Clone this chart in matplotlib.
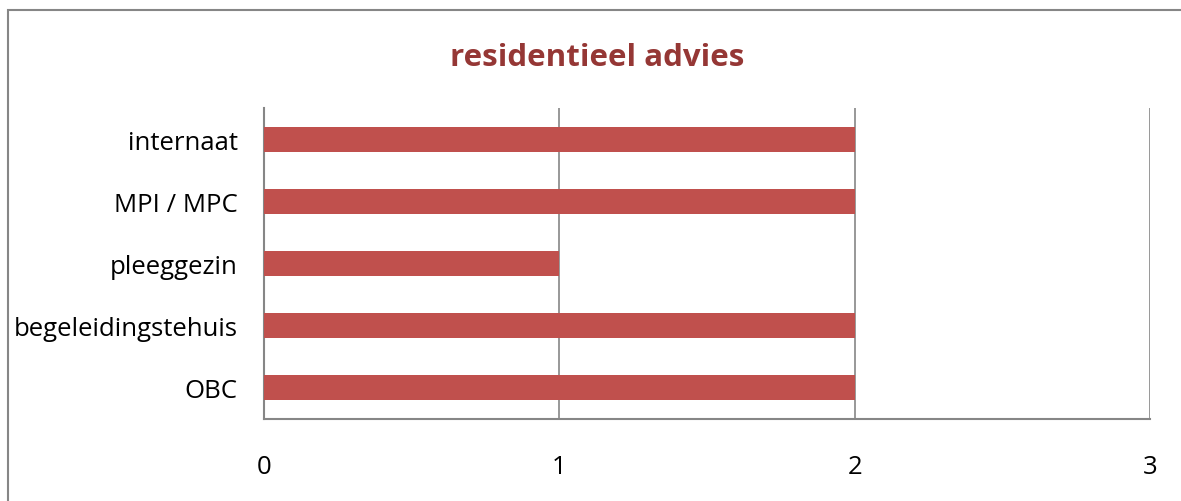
import matplotlib
matplotlib.use("Agg")
import matplotlib.pyplot as plt
from matplotlib.patches import Rectangle

# Data
categories = ["OBC", "begeleidingstehuis", "pleeggezin", "MPI / MPC", "internaat"]
values = [2, 2, 1, 2, 2]
xticks = [0, 1, 2, 3]

bar_color = "#C0504D"
title_color = "#953735"
grid_color = "#868686"

plt.rcParams['font.family'] = ['Open Sans', 'DejaVu Sans']

fig = plt.figure(figsize=(11.81, 5.02), dpi=100)
ax = fig.add_axes([264 / 1181, 82 / 502, 886 / 1181, 311 / 502])

# outer chart frame (Excel style)
fig.patches.append(Rectangle((8 / 1181, -0.1), 1.2, 1.1 - 11 / 502,
                             transform=fig.transFigure, fill=False,
                             edgecolor="#868686", linewidth=1.5))

y = range(len(categories))
ax.barh(y, values, height=0.4, color=bar_color, edgecolor="none", zorder=3)

ax.set_xlim(0, 3)
ax.set_ylim(-0.5, len(categories) - 0.5)
ax.set_xticks(xticks)
ax.set_xticklabels([str(t) for t in xticks], fontsize=18.5)
ax.set_yticks(list(y))
ax.set_yticklabels(categories, fontsize=18.5)
ax.tick_params(axis='x', length=0, pad=25)
ax.tick_params(axis='y', length=0, pad=19)

ax.grid(axis='x', color=grid_color, linewidth=1.2, zorder=1)
ax.set_axisbelow(True)
for s in ['top', 'right']:
    ax.spines[s].set_visible(False)
for s in ['left', 'bottom']:
    ax.spines[s].set_color(grid_color)
    ax.spines[s].set_linewidth(1.5)

fig.text(597 / 1181, 1 - 58 / 502, "residentieel advies", ha='center', va='center',
         fontsize=22.5, fontweight='bold', color=title_color)

fig.savefig("out.png", dpi=100)
